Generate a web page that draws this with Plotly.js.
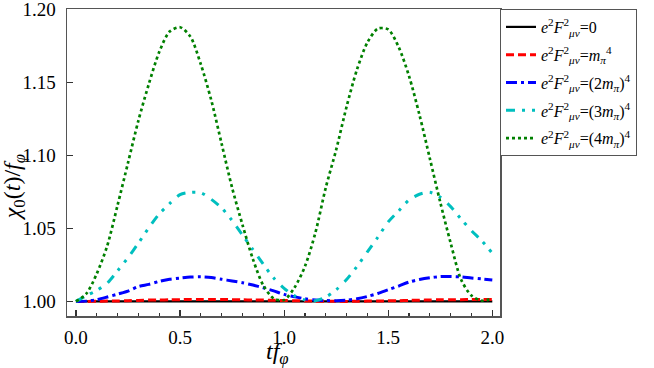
<!DOCTYPE html>
<html>
<head>
<meta charset="utf-8">
<script src="https://cdn.plot.ly/plotly-3.0.1.min.js"></script>
<style>
  body { margin: 0; background: #fff; }
  #plot_window { width: 654px; height: 368px; }
</style>
</head>
<body>
<div id="plot_window"></div>
<script>
// time axis, t f_phi
const tf = [0.00, 0.05, 0.10, 0.15, 0.20, 0.25, 0.30, 0.35, 0.40, 0.45,
            0.50, 0.55, 0.60, 0.65, 0.70, 0.75, 0.80, 0.85, 0.90, 0.95,
            1.00, 1.05, 1.10, 1.15, 1.20, 1.25, 1.30, 1.35, 1.40, 1.45,
            1.50, 1.55, 1.60, 1.65, 1.70, 1.75, 1.80, 1.85, 1.90, 1.95, 2.00];

// chi_0(t)/f_phi for each field strength
const chi_zero = [1, 1, 1, 1, 1, 1, 1, 1, 1, 1, 1, 1, 1, 1, 1, 1, 1, 1, 1, 1,
                  1, 1, 1, 1, 1, 1, 1, 1, 1, 1, 1, 1, 1, 1, 1, 1, 1, 1, 1, 1, 1];

const chi_m1 = [1.0000, 1.0000, 1.0001, 1.0002, 1.0003, 1.0005, 1.0007, 1.0009, 1.0010, 1.0011,
                1.0012, 1.0013, 1.0013, 1.0013, 1.0013, 1.0012, 1.0011, 1.0010, 1.0009, 1.0008,
                1.0006, 1.0005, 1.0003, 1.0002, 1.0001, 1.0001, 1.0000, 1.0001, 1.0002, 1.0003,
                1.0004, 1.0005, 1.0007, 1.0008, 1.0010, 1.0011, 1.0012, 1.0012, 1.0013, 1.0013, 1.0013];

const chi_m2 = [1.0000, 1.0002, 1.0012, 1.0030, 1.0050, 1.0070, 1.0102, 1.0117, 1.0137, 1.0152,
                1.0160, 1.0167, 1.0169, 1.0164, 1.0152, 1.0140, 1.0128, 1.0112, 1.0094, 1.0072,
                1.0048, 1.0032, 1.0018, 1.0010, 1.0006, 1.0005, 1.0008, 1.0018, 1.0034, 1.0054,
                1.0080, 1.0105, 1.0133, 1.0150, 1.0162, 1.0170, 1.0171, 1.0168, 1.0160, 1.0154, 1.0147];

const chi_m3 = [1.0000, 1.0040, 1.0075, 1.0125, 1.0210, 1.0300, 1.0400, 1.0505, 1.0600, 1.0670,
                1.0732, 1.0748, 1.0745, 1.0700, 1.0640, 1.0555, 1.0455, 1.0355, 1.0255, 1.0160,
                1.0090, 1.0038, 1.0010, 1.0005, 1.0030, 1.0080, 1.0150, 1.0240, 1.0340, 1.0440,
                1.0545, 1.0620, 1.0695, 1.0735, 1.0748, 1.0715, 1.0650, 1.0565, 1.0485, 1.0415, 1.0330];

const chi_m4 = [1.0000, 1.0053, 1.0190, 1.0380, 1.0660, 1.0950, 1.1240, 1.1490, 1.1710, 1.1850,
                1.1880, 1.1815, 1.1625, 1.1380, 1.1080, 1.0780, 1.0525, 1.0290, 1.0110, 1.0020,
                1.0010, 1.0095, 1.0240, 1.0470, 1.0780, 1.1040, 1.1335, 1.1590, 1.1775, 1.1870,
                1.1865, 1.1745, 1.1545, 1.1280, 1.0980, 1.0680, 1.0400, 1.0150, 1.0040, 1.0005, 1.0020];

const series_names = [
    "<i>e</i><sup>2</sup><i>F</i><sup>2</sup><sub><i>μν</i></sub>=0",
    "<i>e</i><sup>2</sup><i>F</i><sup>2</sup><sub><i>μν</i></sub>=<i>m</i><sub><i>π</i></sub><sup>4</sup>",
    "<i>e</i><sup>2</sup><i>F</i><sup>2</sup><sub><i>μν</i></sub>=(2<i>m</i><sub><i>π</i></sub>)<sup>4</sup>",
    "<i>e</i><sup>2</sup><i>F</i><sup>2</sup><sub><i>μν</i></sub>=(3<i>m</i><sub><i>π</i></sub>)<sup>4</sup>",
    "<i>e</i><sup>2</sup><i>F</i><sup>2</sup><sub><i>μν</i></sub>=(4<i>m</i><sub><i>π</i></sub>)<sup>4</sup>"
];

const serif = "Liberation Serif";

function make_trace(y, name, color, width, dash){
    return {
        x: tf,
        y: y,
        type: 'scatter',
        mode: 'lines',
        name: name,
        legendgroup: name,
        line: {color: color, width: width, dash: dash, shape: 'spline', smoothing: 0.8}
    };
}

var data = [
    make_trace(chi_zero, series_names[0], 'black', 2.2, 'solid'),
    make_trace(chi_m1, series_names[1], '#ff0000', 3, '8px,4px'),
    make_trace(chi_m2, series_names[2], '#0000ff', 3, '11px,4px,3px,4px'),
    make_trace(chi_m3, series_names[3], '#00bfbf', 3, '9px,7px,3px,7px,3px,8px'),
    make_trace(chi_m4, series_names[4], '#008000', 2.7, 'dot')
];

// axis titles as annotations so they sit where the original puts them
function axis_label(text, x, y, angle){
    return {
        text: text, textangle: angle,
        xref: 'paper', yref: 'paper', x: x, y: y,
        xanchor: 'center', yanchor: 'middle',
        showarrow: false,
        font: {family: serif, size: 24, color: 'black'}
    };
}

const layout = {
    width: 654,
    height: 368,
    margin: {l: 67, r: 154, t: 9, b: 52},
    paper_bgcolor: 'white',
    plot_bgcolor: 'white',
    font: {family: serif, size: 19, color: 'black'},
    showlegend: true,
    legend: {
        x: 1, xanchor: 'left', y: 1, yanchor: 'top',
        bordercolor: '#555', borderwidth: 1, bgcolor: 'white',
        tracegroupgap: 4,
        font: {family: serif, size: 16, color: 'black'}
    },
    xaxis: {
        range: [-0.043, 2.037],
        tickvals: [0, 0.5, 1.0, 1.5, 2.0],
        ticktext: ['0.0', '0.5', '1.0', '1.5', '2.0'],
        ticks: 'inside', ticklen: 6, tickwidth: 1.2, tickcolor: '#333',
        minor: {dtick: 0.1, ticks: 'inside', ticklen: 3, tickcolor: '#333'},
        showgrid: false, zeroline: false,
        showline: true, mirror: true, linecolor: '#555', linewidth: 1.5,
        ticklabelstandoff: 4
    },
    yaxis: {
        range: [0.99, 1.2005],
        tickvals: [1.00, 1.05, 1.10, 1.15, 1.20],
        ticktext: ['1.00', '1.05', '1.10', '1.15', '1.20'],
        ticks: 'inside', ticklen: 6, tickwidth: 1.2, tickcolor: '#333',
        ticklabeloverflow: 'allow',
        showgrid: false, zeroline: false,
        showline: true, mirror: true, linecolor: '#555', linewidth: 1.5,
        ticklabelstandoff: 6
    },
    annotations: [
        axis_label("<i>χ</i><sub>0</sub>(<i>t</i>)/<i>f</i><sub><i>φ</i></sub>", -0.122, 0.42, -90),
        axis_label("<i>tf</i><sub><i>φ</i></sub>", 0.487, -0.122, 0)
    ]
};

Plotly.newPlot('plot_window', data, layout, {staticPlot: true});
</script>
</body>
</html>
